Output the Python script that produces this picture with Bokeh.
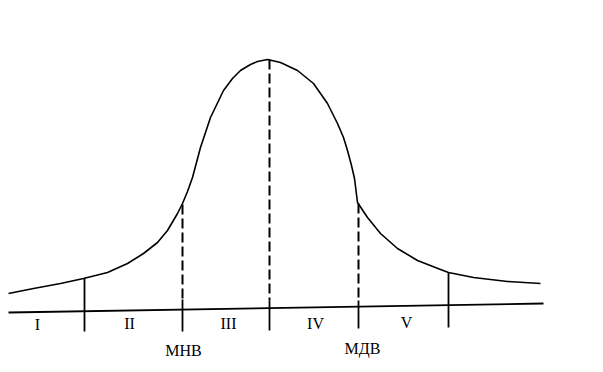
from bokeh.plotting import figure
from bokeh.models import Range1d
from bokeh.core.properties import value
from bokeh.embed import file_html
from bokeh.resources import INLINE

# curve (x, y in picture units; y grows downward)
curve_x = [8, 33, 60, 83, 107, 127, 143, 157, 167, 177, 182, 187, 192, 200, 210, 223, 232, 240, 250, 257, 267, 280, 297, 313, 327, 337, 343, 347, 351, 354, 357, 367, 380, 397, 417, 440, 448, 473, 507, 540]
curve_y = [293, 288, 283, 278, 272, 263, 253, 242, 230, 213, 203, 191, 177, 147, 117, 90, 78, 70, 64, 61, 59, 62, 70, 83, 103, 123, 137, 150, 165, 178, 202, 217, 233, 248, 260, 269, 272, 277, 281, 283]

base_x = [8, 543]
base_y = [312, 303]

solid_x = [84, 448]
solid_top = [278, 272]
solid_bot = [331, 327]

dash_x = [182, 269, 358]
dash_top = [204, 59, 203]
dash_mid = [299, 300, 300]
dash_bot = [331, 330, 328]

zone_labels = ["I", "II", "III", "IV", "V"]
zone_x = [37, 129, 228, 315, 406]
zone_y = [324, 323, 323, 323, 322]

name_labels = ["МНВ", "МДВ"]
name_x = [183, 362]
name_y = [350, 348]

# the figure sits at the page's top-left corner, so picture units map 1:1
p = figure(width=600, height=368, output_backend="svg", toolbar_location=None,
           x_range=Range1d(0, 600), y_range=Range1d(368, 0),
           min_border=0, outline_line_color=None, background_fill_color="white")
p.axis.visible = False
p.grid.visible = False

p.line(curve_x, curve_y, line_color="black", line_width=1.6, line_join="round")
p.line(base_x, base_y, line_color="black", line_width=1.8)
p.segment(x0=solid_x, y0=solid_top, x1=solid_x, y1=solid_bot, line_color="black", line_width=1.8)
p.segment(x0=dash_x, y0=dash_top, x1=dash_x, y1=dash_mid, line_color="black", line_width=2, line_dash="10 4")
p.segment(x0=dash_x, y0=dash_mid, x1=dash_x, y1=dash_bot, line_color="black", line_width=1.8)

p.text(x=zone_x, y=zone_y, text=zone_labels, text_font=value("Liberation Serif"),
       text_font_size="16px", text_align="center", text_baseline="middle", text_color="black")
p.text(x=name_x, y=name_y, text=name_labels, text_font=value("Liberation Serif"),
       text_font_size="16px", text_align="center", text_baseline="middle", text_color="black")

open("out.html", "w").write(file_html(p, INLINE))
